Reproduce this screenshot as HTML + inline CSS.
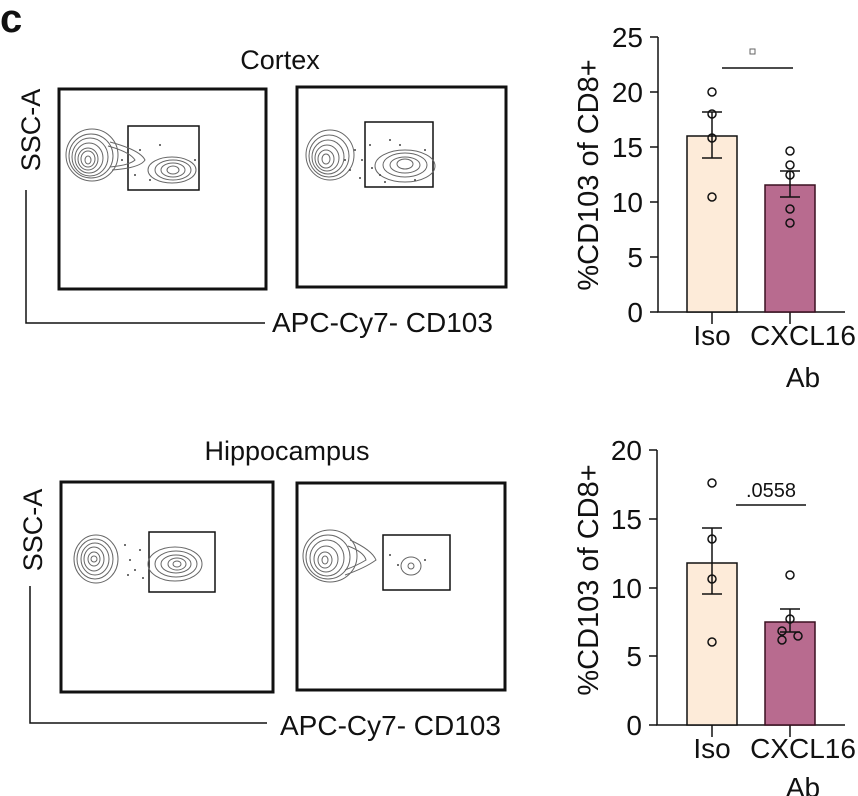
<!DOCTYPE html>
<html><head><meta charset="utf-8"><style>
html,body{margin:0;padding:0;background:#fff}
svg{display:block}
text{font-family:"Liberation Sans",sans-serif;fill:#111}
</style></head><body>
<svg width="858" height="796" viewBox="0 0 858 796" xmlns="http://www.w3.org/2000/svg">
<text x="0" y="32" font-size="40" font-weight="bold">c</text>

<!-- Cortex flow -->
<text x="280" y="69" font-size="27" text-anchor="middle">Cortex</text>
<g fill="none" stroke="#111">
<rect x="59" y="89" width="207" height="200" stroke-width="3"/>
<rect x="297" y="87" width="209" height="200" stroke-width="3"/>
<rect x="128" y="126" width="71" height="64" stroke-width="1.5"/>
<rect x="365" y="122" width="68" height="65" stroke-width="1.5"/>
<path d="M26 190V323H265" stroke-width="1.5"/>
</g>
<g fill="none" stroke="#666" stroke-width="1">
<ellipse cx="92" cy="155" rx="26" ry="26"/><ellipse cx="91" cy="156" rx="22" ry="22"/><ellipse cx="90" cy="157" rx="18" ry="19"/><ellipse cx="89" cy="158" rx="14" ry="15"/><ellipse cx="88" cy="159" rx="10" ry="11"/><ellipse cx="88" cy="159" rx="7" ry="8"/><ellipse cx="88" cy="160" rx="3" ry="4"/>
<path d="M110 142Q140 150 145 160Q140 168 112 170"/><path d="M108 146Q130 152 135 160Q130 165 110 167"/>
<ellipse cx="172" cy="170" rx="24" ry="13"/><ellipse cx="173" cy="170" rx="18" ry="10"/><ellipse cx="173" cy="170" rx="12" ry="7"/><ellipse cx="173" cy="170" rx="6" ry="4"/>
<ellipse cx="330" cy="155" rx="24" ry="25"/><ellipse cx="329" cy="156" rx="20" ry="21"/><ellipse cx="328" cy="157" rx="16" ry="17"/><ellipse cx="327" cy="158" rx="12" ry="13"/><ellipse cx="326" cy="159" rx="8" ry="9"/><ellipse cx="326" cy="159" rx="4" ry="5"/>
<ellipse cx="405" cy="166" rx="30" ry="16"/><ellipse cx="405" cy="165" rx="22" ry="12"/><ellipse cx="405" cy="165" rx="15" ry="8"/><ellipse cx="405" cy="164" rx="8" ry="5"/>
</g>
<g fill="#444">
<circle cx="140" cy="150" r="1"/><circle cx="150" cy="180" r="1"/><circle cx="160" cy="145" r="1"/><circle cx="195" cy="160" r="1"/><circle cx="135" cy="175" r="1"/><circle cx="122" cy="160" r="1"/><circle cx="128" cy="152" r="1"/>
<circle cx="355" cy="150" r="1"/><circle cx="362" cy="160" r="1"/><circle cx="370" cy="145" r="1"/><circle cx="380" cy="175" r="1"/><circle cx="350" cy="170" r="1"/><circle cx="425" cy="150" r="1"/><circle cx="390" cy="140" r="1"/><circle cx="345" cy="160" r="1"/><circle cx="360" cy="178" r="1"/><circle cx="372" cy="168" r="1"/><circle cx="385" cy="182" r="1"/><circle cx="415" cy="180" r="1"/><circle cx="400" cy="145" r="1"/>
</g>
<text transform="translate(40,130) rotate(-90)" font-size="27" text-anchor="middle">SSC-A</text>
<text x="272" y="332" font-size="28">APC-Cy7- CD103</text>

<!-- Hippocampus flow -->
<text x="287" y="460" font-size="27" text-anchor="middle">Hippocampus</text>
<g fill="none" stroke="#111">
<rect x="61" y="482" width="212" height="210" stroke-width="3"/>
<rect x="297" y="483" width="208" height="207" stroke-width="3"/>
<rect x="149" y="532" width="66" height="60" stroke-width="1.5"/>
<rect x="383" y="535" width="67" height="55" stroke-width="1.5"/>
<path d="M30 586V723H267" stroke-width="1.5"/>
</g>
<g fill="none" stroke="#666" stroke-width="1">
<ellipse cx="96" cy="559" rx="22" ry="24"/><ellipse cx="95" cy="559" rx="18" ry="20"/><ellipse cx="95" cy="559" rx="14" ry="16"/><ellipse cx="94" cy="559" rx="10" ry="12"/><ellipse cx="94" cy="559" rx="6" ry="7"/><ellipse cx="94" cy="559" rx="3" ry="3"/>
<ellipse cx="175" cy="564" rx="27" ry="17"/><ellipse cx="176" cy="564" rx="21" ry="13"/><ellipse cx="176" cy="564" rx="15" ry="9"/><ellipse cx="177" cy="564" rx="9" ry="6"/><ellipse cx="177" cy="564" rx="4" ry="3"/>
<ellipse cx="330" cy="556" rx="27" ry="26"/><ellipse cx="328" cy="557" rx="22" ry="22"/><ellipse cx="327" cy="558" rx="17" ry="18"/><ellipse cx="326" cy="559" rx="12" ry="13"/><ellipse cx="325" cy="560" rx="7" ry="8"/><ellipse cx="325" cy="560" rx="3" ry="4"/>
<path d="M350 540Q372 550 376 560Q365 568 345 575"/><path d="M348 546Q364 552 366 560Q358 565 345 570"/>
<ellipse cx="411" cy="566" rx="10" ry="9"/><ellipse cx="411" cy="566" rx="3" ry="3"/>
</g>
<g fill="#444">
<circle cx="125" cy="545" r="1"/><circle cx="130" cy="560" r="1"/><circle cx="135" cy="570" r="1"/><circle cx="140" cy="550" r="1"/><circle cx="128" cy="575" r="1"/><circle cx="143" cy="578" r="1"/>
<circle cx="398" cy="565" r="1"/><circle cx="425" cy="560" r="1"/><circle cx="390" cy="555" r="1"/>
</g>
<text transform="translate(42,530) rotate(-90)" font-size="27" text-anchor="middle">SSC-A</text>
<text x="280" y="735" font-size="28">APC-Cy7- CD103</text>

<!-- Top bar chart -->
<g stroke="#111" stroke-width="1.5" fill="none">
<path d="M658 37V312H845"/>
<path d="M650 37H658M650 92H658M650 147H658M650 202H658M650 257H658M650 312H658"/>
<path d="M712 312V324M790 312V324"/>
</g>
<rect x="687" y="136" width="50" height="176" fill="#fdebd9" stroke="#111" stroke-width="1.5"/>
<rect x="765" y="185" width="50" height="127" fill="#b86b8f" stroke="#3a1020" stroke-width="1.5"/>
<g stroke="#111" stroke-width="1.5" fill="none">
<path d="M712 158V112M702 112H722M702 158H722"/>
<path d="M790 197V171M780 171H800M780 197H800"/>
<path d="M722 68H793"/>
<circle cx="712" cy="92" r="4"/><circle cx="712" cy="114" r="4"/><circle cx="712" cy="138" r="4"/><circle cx="712" cy="197" r="4"/>
<circle cx="790" cy="151" r="4"/><circle cx="790" cy="165" r="4"/><circle cx="790" cy="175" r="4"/><circle cx="790" cy="209" r="4"/><circle cx="790" cy="223" r="4"/>
</g>
<rect x="750" y="49" width="5" height="5" fill="none" stroke="#666" stroke-width="1"/>
<g font-size="28" text-anchor="end">
<text x="643" y="47">25</text><text x="643" y="102">20</text><text x="643" y="157">15</text><text x="643" y="212">10</text><text x="643" y="267">5</text><text x="643" y="322">0</text>
</g>
<text transform="translate(598,175) rotate(-90)" font-size="29" text-anchor="middle">%CD103 of CD8+</text>
<text x="712" y="345" font-size="28" text-anchor="middle">Iso</text>
<text x="803" y="345" font-size="28" text-anchor="middle">CXCL16</text>
<text x="803" y="387" font-size="28" text-anchor="middle">Ab</text>

<!-- Bottom bar chart -->
<g stroke="#111" stroke-width="1.5" fill="none">
<path d="M657 450V725H845"/>
<path d="M649 450H657M649 519H657M649 588H657M649 656H657M649 725H657"/>
<path d="M712 725V737M790 725V737"/>
</g>
<rect x="687" y="563" width="50" height="162" fill="#fdebd9" stroke="#111" stroke-width="1.5"/>
<rect x="765" y="622" width="50" height="103" fill="#b86b8f" stroke="#3a1020" stroke-width="1.5"/>
<g stroke="#111" stroke-width="1.5" fill="none">
<path d="M712 594V528M702 528H722M702 594H722"/>
<path d="M790 632V609M780 609H800M780 632H800"/>
<path d="M736 505H806"/>
<circle cx="712" cy="483" r="4"/><circle cx="712" cy="539" r="4"/><circle cx="712" cy="579" r="4"/><circle cx="712" cy="642" r="4"/>
<circle cx="790" cy="575" r="4"/><circle cx="790" cy="619" r="4"/><circle cx="782" cy="631" r="4"/><circle cx="782" cy="640" r="4"/><circle cx="798" cy="636" r="4"/>
</g>
<text x="771" y="497" font-size="20" text-anchor="middle">.0558</text>
<g font-size="28" text-anchor="end">
<text x="642" y="460">20</text><text x="642" y="529">15</text><text x="642" y="598">10</text><text x="642" y="666">5</text><text x="642" y="735">0</text>
</g>
<text transform="translate(598,580) rotate(-90)" font-size="29" text-anchor="middle">%CD103 of CD8+</text>
<text x="712" y="758" font-size="28" text-anchor="middle">Iso</text>
<text x="803" y="758" font-size="28" text-anchor="middle">CXCL16</text>
<text x="803" y="797" font-size="28" text-anchor="middle">Ab</text>
</svg>
</body></html>
